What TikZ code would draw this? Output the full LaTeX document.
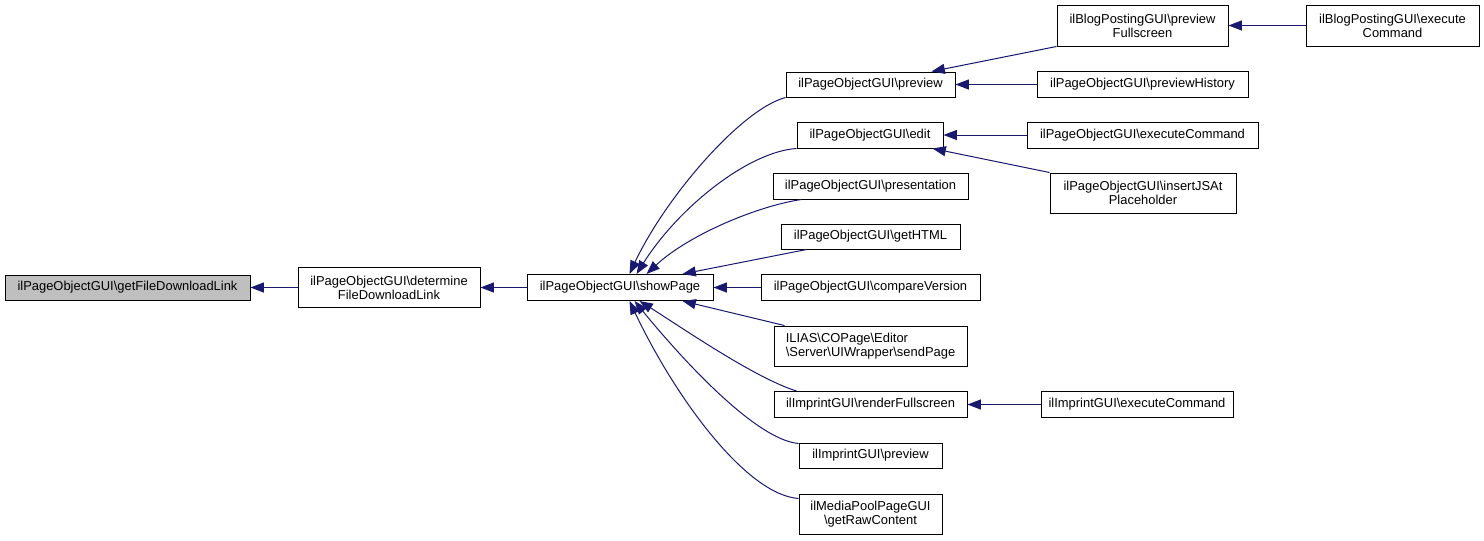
\documentclass[tikz,border=0pt]{standalone}
\usepackage{fontspec}
\setmainfont{Liberation Sans}
\usetikzlibrary{calc,arrows.meta}
\definecolor{edgeblue}{HTML}{191970}
\definecolor{hilite}{HTML}{BFBFBF}
\begin{document}
\begin{tikzpicture}[x=0.75pt,y=-0.75pt,
  box/.style={draw=black,line width=0.75pt,inner sep=0pt,fill=white,align=center,
    font=\fontsize{9.7}{10.5}\selectfont},
  lbox/.style={box,align=left},
  sz/.style 2 args={minimum width=#1*0.75pt,minimum height=#2*0.75pt},
  edge/.style={draw=edgeblue,line width=0.75pt,-{Triangle[length=10pt,width=7.5pt]}}]
\useasboundingbox[fill=white] (0,0) rectangle (1484,540);
\def\bs{\textbackslash}
% nodes
\node[box,fill=hilite,sz={245}{25}] (A) at (127.5,287.5) {ilPageObjectGUI\bs getFileDownloadLink};
\node[box,sz={182}{40}] (B) at (389,287.5) {ilPageObjectGUI\bs determine\\FileDownloadLink};
\node[box,sz={186}{26}] (C) at (620,287.5) {ilPageObjectGUI\bs showPage};
\node[box,sz={169}{25}] (pv) at (870.5,84.5) {ilPageObjectGUI\bs preview};
\node[box,sz={146}{26}] (ed) at (870,135) {ilPageObjectGUI\bs edit};
\node[box,sz={195}{26}] (pr) at (870.5,186) {ilPageObjectGUI\bs presentation};
\node[box,sz={179}{25}] (gh) at (870.5,236.5) {ilPageObjectGUI\bs getHTML};
\node[box,sz={219}{26}] (cv) at (870.5,287.5) {ilPageObjectGUI\bs compareVersion};
\node[lbox,sz={193}{40}] (sp) at (870.5,346) {ILIAS\bs COPage\bs Editor\\\bs Server\bs UIWrapper\bs sendPage};
\node[box,sz={193}{26}] (rf) at (870.5,404.5) {ilImprintGUI\bs renderFullscreen};
\node[box,sz={143}{25}] (ip) at (870.5,455.5) {ilImprintGUI\bs preview};
\node[box,sz={143}{40}] (mp) at (870.5,514) {ilMediaPoolPageGUI\\\bs getRawContent};
\node[box,sz={171}{41}] (pf) at (1142.5,25.5) {ilBlogPostingGUI\bs preview\\Fullscreen};
\node[box,sz={173}{41}] (be) at (1392.5,25.5) {ilBlogPostingGUI\bs execute\\Command};
\node[box,sz={211}{26}] (ph) at (1142.5,84.5) {ilPageObjectGUI\bs previewHistory};
\node[box,sz={231}{26}] (ec) at (1142.5,135) {ilPageObjectGUI\bs executeCommand};
\node[box,sz={186}{40}] (js) at (1143,193) {ilPageObjectGUI\bs insertJSAt\\Placeholder};
\node[box,sz={192}{26}] (ie) at (1137,404.5) {ilImprintGUI\bs executeCommand};
% edges
\draw[edge] (B.west) -- (A.east);
\draw[edge] (C.west) -- (B.east);
\draw[edge] (cv.west) -- (C.east);
\draw[edge] (ph.west) -- (pv.east);
\draw[edge] (ec.west) -- (ed.east);
\draw[edge] (be.west) -- (pf.east);
\draw[edge] (ie.west) -- (rf.east);
\draw[edge] (pf.south west) -- ($(pv.north west)+(146,0)$);
\draw[edge] (js.north west) -- ($(ed.south west)+(136,0)$);
\draw[edge] (pv.south west) .. controls +(-45,12) and +(35,-75) .. ($(C.north west)+(103,0)$);
\draw[edge] (ed.south west) .. controls +(-47,3) and +(43,-68) .. ($(C.north west)+(110,0)$);
\draw[edge] ($(pr.south west)+(29,0)$) .. controls +(-42,6) and +(43,-40) .. ($(C.north west)+(120,0)$);
\draw[edge] ($(gh.south west)+(26,0)$) -- ($(C.north west)+(156,0)$);
\draw[edge] ($(sp.north west)+(11,0)$) -- ($(C.south west)+(156,0)$);
\draw[edge] ($(rf.north west)+(23,0)$) .. controls +(-42,-13) and +(40,25) .. ($(C.south west)+(113,0)$);
\draw[edge] ($(ip.north west)+(0,1)$) .. controls +(-44,-4) and +(45,55) .. ($(C.south west)+(108,0)$);
\draw[edge] ($(mp.north west)+(0,5)$) .. controls +(-53,-4) and +(45,95) .. ($(C.south west)+(103,0)$);
\end{tikzpicture}
\end{document}
